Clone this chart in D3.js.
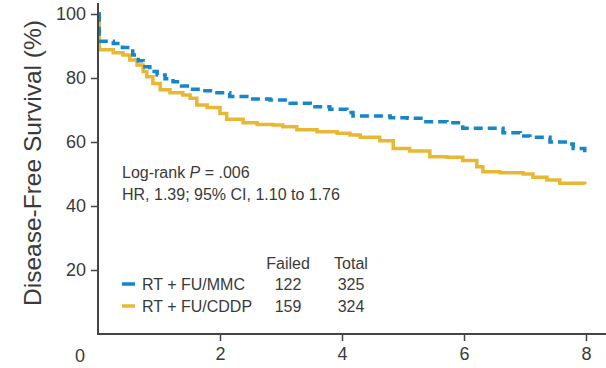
<!DOCTYPE html>
<html>
<head>
<meta charset="utf-8">
<script src="https://cdn.jsdelivr.net/npm/d3@7"></script>
<style>
  body { margin: 0; background: #fff; }
  text { font-family: "Liberation Sans", Arial, sans-serif; fill: #3a3a3a; }
</style>
</head>
<body>
<div id="chart"></div>
<script>
// years vs disease-free survival (%)
const mmcTime = [0, 0.02, 0.25, 0.4, 0.57, 0.66, 0.74, 0.85, 0.97, 1.1, 1.23, 1.37, 1.51, 1.67, 1.95, 2.16, 2.44, 2.82, 3.15, 3.48, 3.8, 4.08, 4.18, 4.79, 5.07, 5.33, 5.72, 5.98, 6.43, 6.64, 6.92, 7.08, 7.41, 7.69, 7.79, 7.98];
const mmcSurv = [100, 91.5, 90.8, 89.5, 87.2, 85.4, 83.5, 82.0, 80.9, 79.8, 78.8, 77.5, 76.5, 76.0, 75.4, 74.2, 73.4, 73.1, 72.1, 71.0, 70.2, 69.2, 68.1, 67.6, 67.4, 66.3, 66.0, 64.3, 64.3, 62.9, 61.9, 61.5, 60.0, 59.4, 58.0, 56.8];

const cddpTime = [0, 0.02, 0.25, 0.41, 0.52, 0.64, 0.74, 0.8, 0.9, 1.02, 1.18, 1.39, 1.51, 1.62, 1.79, 2.0, 2.11, 2.38, 2.61, 2.87, 3.03, 3.26, 3.59, 3.92, 4.13, 4.3, 4.62, 4.84, 5.11, 5.44, 5.72, 5.98, 6.21, 6.31, 6.59, 6.97, 7.13, 7.36, 7.57, 7.98];
const cddpSurv = [100, 88.8, 87.9, 87.2, 85.6, 84.1, 82.0, 80.4, 78.3, 76.3, 75.4, 74.7, 73.7, 71.6, 70.8, 68.9, 67.1, 66.0, 65.5, 65.3, 64.8, 63.8, 63.2, 62.7, 62.2, 61.5, 60.4, 58.0, 57.2, 55.4, 55.2, 54.2, 52.3, 50.7, 50.4, 50.0, 49.0, 48.1, 47.1, 46.8];

const xTicks = [2, 4, 6, 8];
const yTicks = [20, 40, 60, 80, 100];

const groups = ['RT + FU/MMC', 'RT + FU/CDDP'];
const failed = [122, 159];
const totals = [325, 324];

const W = 606, H = 368;
const x = d3.scaleLinear().domain([0, 8]).range([98, 586]);
const y = d3.scaleLinear().domain([0, 100]).range([334, 14]);

const blue = '#1587c9', gold = '#e8b834';
const fs = 16;

const svg = d3.select('#chart').append('svg')
  .attr('width', W).attr('height', H);

// curves
const line = d3.line().curve(d3.curveStepAfter)
  .x(d => x(d[0])).y(d => y(d[1]));

svg.append('path')
  .datum(d3.zip(cddpTime, cddpSurv))
  .attr('d', line)
  .attr('fill', 'none')
  .attr('stroke', gold)
  .attr('stroke-width', 3.5);

svg.append('path')
  .datum(d3.zip(mmcTime, mmcSurv))
  .attr('d', line)
  .attr('fill', 'none')
  .attr('stroke', blue)
  .attr('stroke-width', 3.5)
  .attr('stroke-dasharray', '9,5');

// axes
const axisColor = '#444';
const yAxis = svg.append('g')
  .attr('transform', `translate(${x(0)},0)`)
  .call(d3.axisLeft(y).tickValues(yTicks).tickSize(7).tickPadding(5));
const xAxis = svg.append('g')
  .attr('transform', `translate(0,${y(0)})`)
  .call(d3.axisBottom(x).tickValues(xTicks).tickSize(7).tickPadding(6));

[xAxis, yAxis].forEach(g => {
  g.select('.domain').remove();
  g.selectAll('line').attr('stroke', axisColor).attr('stroke-width', 1.5);
  g.selectAll('text').attr('font-size', 18).attr('fill', '#3a3a3a')
    .style('font-family', '"Liberation Sans", Arial, sans-serif');
});

svg.append('line')
  .attr('x1', x(0)).attr('x2', x(0))
  .attr('y1', 3).attr('y2', y(0) + 1)
  .attr('stroke', axisColor).attr('stroke-width', 2);
svg.append('line')
  .attr('x1', x(0) - 1).attr('x2', W)
  .attr('y1', y(0)).attr('y2', y(0))
  .attr('stroke', axisColor).attr('stroke-width', 2);

// 0 label at the corner
svg.append('text')
  .attr('x', x(0) - 18).attr('y', 362)
  .attr('text-anchor', 'middle')
  .attr('font-size', 18)
  .text('0');

svg.append('text')
  .attr('transform', 'translate(41,163) rotate(-90)')
  .attr('text-anchor', 'middle')
  .attr('font-size', 24.5)
  .text('Disease-Free Survival (%)');

// annotation
const note = svg.append('text')
  .attr('x', 122).attr('y', 178)
  .attr('font-size', fs);
note.append('tspan').text('Log-rank ');
note.append('tspan').attr('font-style', 'italic').text('P');
note.append('tspan').text(' = .006');
svg.append('text')
  .attr('x', 122).attr('y', 200)
  .attr('font-size', fs)
  .text('HR, 1.39; 95% CI, 1.10 to 1.76');

// legend table
svg.append('text').attr('x', 288).attr('y', 269)
  .attr('text-anchor', 'middle').attr('font-size', fs).text('Failed');
svg.append('text').attr('x', 351).attr('y', 269)
  .attr('text-anchor', 'middle').attr('font-size', fs).text('Total');

const rows = svg.selectAll('.row')
  .data(groups)
  .enter()
  .append('g')
  .attr('class', 'row')
  .attr('transform', (d, i) => `translate(0,${290 + i * 22})`);

rows.append('line')
  .attr('x1', 122).attr('x2', 135)
  .attr('y1', -6).attr('y2', -6)
  .attr('stroke', (d, i) => (i === 0 ? blue : gold))
  .attr('stroke-width', 3.5);
rows.append('text').attr('x', 142).attr('font-size', fs).text(d => d);
rows.append('text').attr('x', 288).attr('text-anchor', 'middle')
  .attr('font-size', fs).text((d, i) => failed[i]);
rows.append('text').attr('x', 351).attr('text-anchor', 'middle')
  .attr('font-size', fs).text((d, i) => totals[i]);
</script>
</body>
</html>
